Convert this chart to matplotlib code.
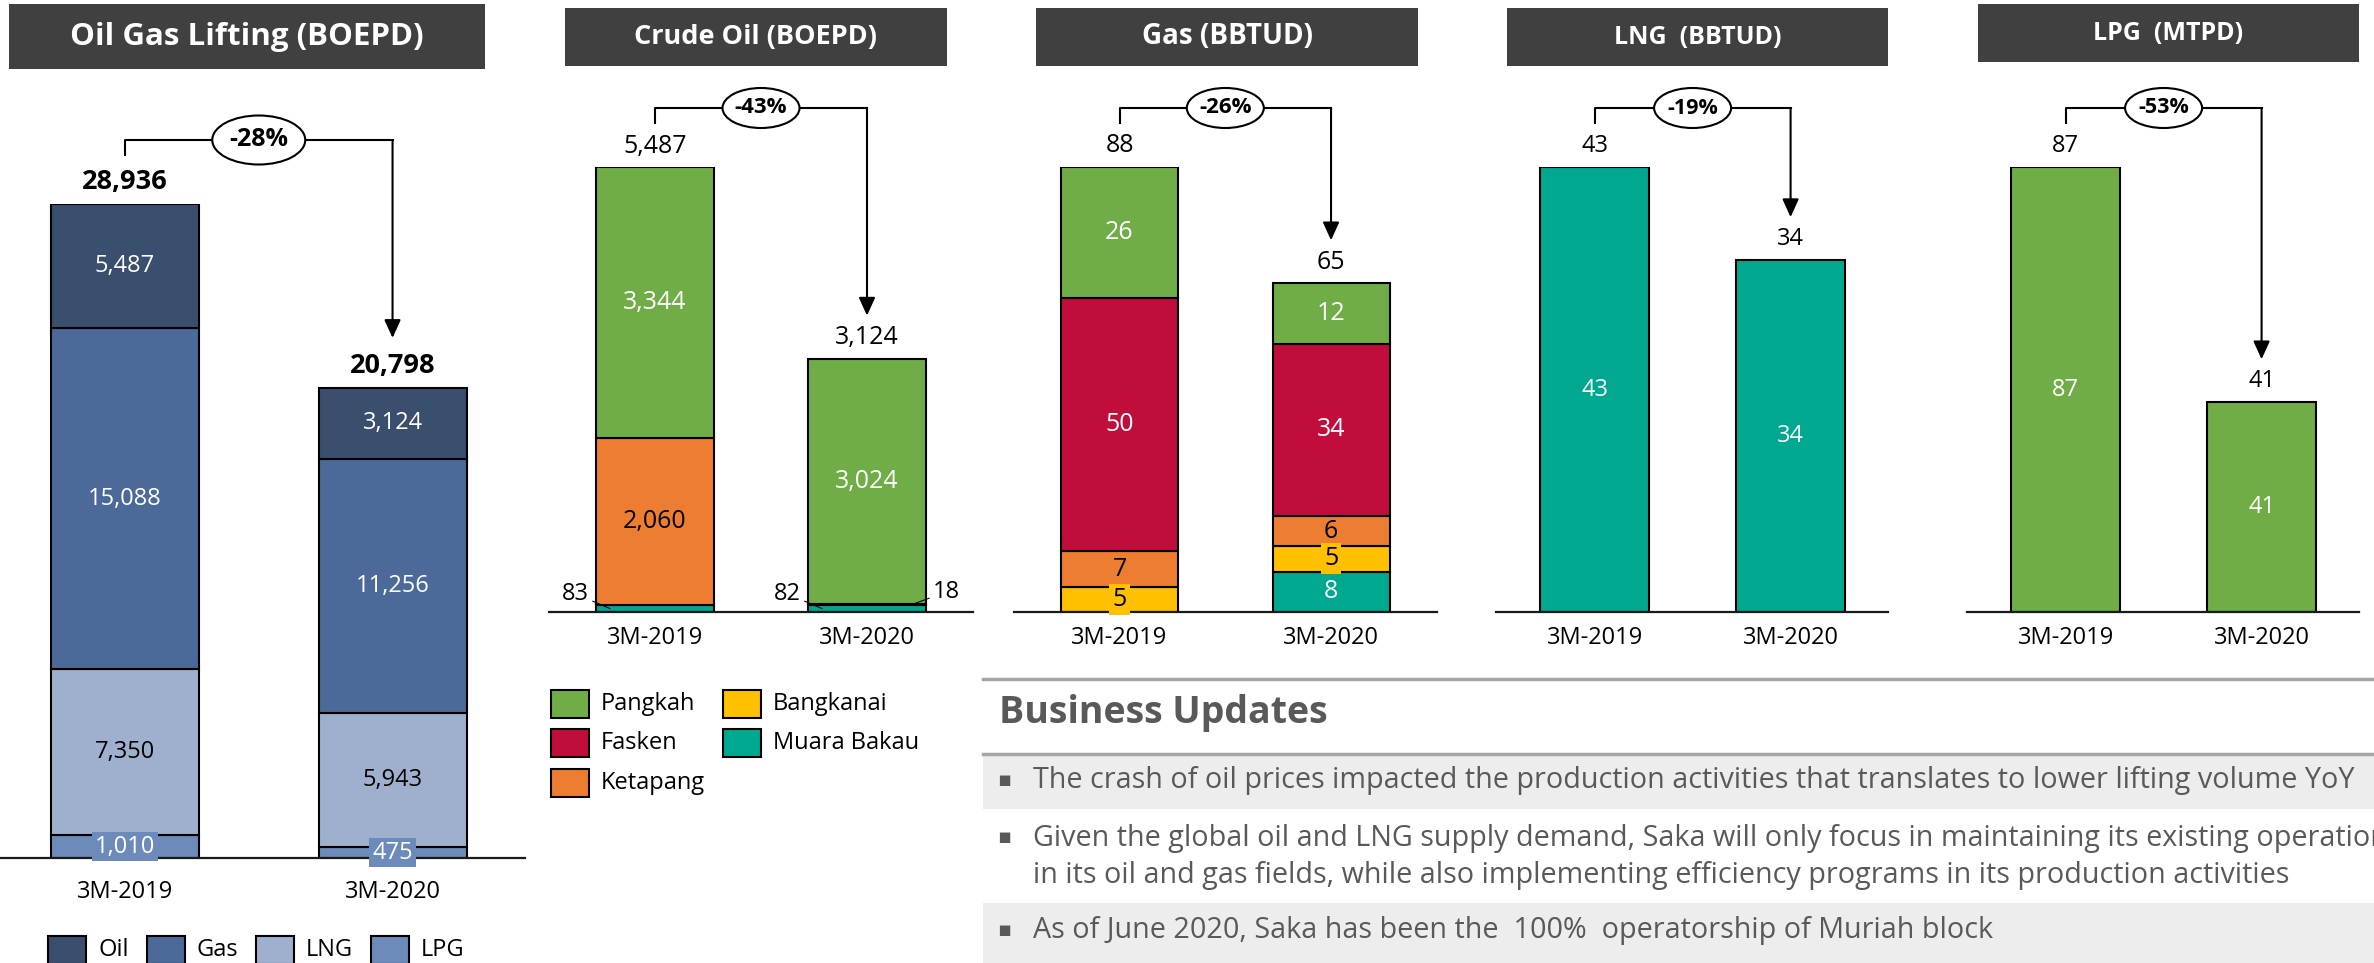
import matplotlib

matplotlib.use("Agg")
import matplotlib.pyplot as plt
from matplotlib.lines import Line2D
from matplotlib.patches import Ellipse, FancyArrowPatch, Rectangle

W, H = 2374, 963
TEXT = "#000000"
GREY_TEXT = "#595959"
TITLE_BG = "#404040"
RULE = "#A6A6A6"
ROW_BG = "#EDEDED"

OIL_C, GAS_C, LNG_C, LPG_C = "#3A4E6E", "#4B6A99", "#9FB0CE", "#6D8BBA"
PANGKAH_C, FASKEN_C, KETAPANG_C = "#70AD47", "#C00D3B", "#ED7D31"
BANGKANAI_C, MUARA_C = "#FFC000", "#00A88F"

YEARS = ["3M-2019", "3M-2020"]

# Oil Gas Lifting (BOEPD), stacked bottom -> top
LIFT_LPG = [1010, 475]
LIFT_LNG = [7350, 5943]
LIFT_GAS = [15088, 11256]
LIFT_OIL = [5487, 3124]
LIFT_TOTAL = [28936, 20798]

# Crude Oil (BOEPD)
CRUDE_MUARA = [83, 82]
CRUDE_KETAPANG = [2060, 18]
CRUDE_PANGKAH = [3344, 3024]
CRUDE_TOTAL = [5487, 3124]

# Gas (BBTUD)
GAS_MUARA = [0, 8]
GAS_BANGKANAI = [5, 5]
GAS_KETAPANG = [7, 6]
GAS_FASKEN = [50, 34]
GAS_PANGKAH = [26, 12]
GAS_TOTAL = [88, 65]

LNG_VALUES = [43, 34]
LPG_VALUES = [87, 41]

CHANGES = ["-28%", "-43%", "-26%", "-19%", "-53%"]

UPDATES = [
    "The crash of oil prices impacted the production activities that translates to lower lifting volume YoY",
    "Given the global oil and LNG supply demand, Saka will only focus in maintaining its existing operation\n"
    "in its oil and gas fields, while also implementing efficiency programs in its production activities",
    "As of June 2020, Saka has been the  100%  operatorship of Muriah block",
]

X = [0, 1]
PT = 0.72  # points per pixel at dpi 100


def frac_rect(x0, y0, x1, y1):
    return [x0 / W, 1 - y1 / H, (x1 - x0) / W, (y1 - y0) / H]


def panel_axes(fig, x0, x1, y_top, y_base, xlim, ymax, pad):
    ax = fig.add_axes(frac_rect(x0, y_top, x1, y_base))
    ax.set_xlim(*xlim)
    ax.set_ylim(0, ymax)
    ax.patch.set_visible(False)
    for s in ["top", "right", "left"]:
        ax.spines[s].set_visible(False)
    ax.spines["bottom"].set_linewidth(1.6)
    ax.spines["bottom"].set_color("#1A1A1A")
    ax.set_yticks([])
    ax.set_xticks(X, YEARS, fontsize=17, color=TEXT)
    ax.tick_params(axis="x", length=0, pad=pad)
    return ax


def title_box(fig, x0, y0, x1, y1, text, fs):
    fig.add_artist(Rectangle((x0 / W, 1 - y1 / H), (x1 - x0) / W, (y1 - y0) / H,
                             transform=fig.transFigure, facecolor=TITLE_BG, edgecolor="none"))
    fig.text((x0 + x1) / 2 / W, 1 - (y0 + y1) / 2 / H, text, color="white",
             fontsize=fs, fontweight="bold", ha="center", va="center")


def draw_stack(ax, layers, width, fs, skip=()):
    bottoms = [0.0] * len(X)
    for li, (values, color, tcolor, boxed) in enumerate(layers):
        ax.bar(X, values, width, bottom=bottoms, color=color, edgecolor="black",
               linewidth=1.5, zorder=2)
        for i, v in enumerate(values):
            if v == 0 or (li, i) in skip:
                continue
            bbox = None
            if boxed:
                bbox = dict(boxstyle="square,pad=0.12", facecolor=color, edgecolor="none")
            ax.text(X[i], bottoms[i] + v / 2, f"{v:,}", ha="center", va="center",
                    fontsize=fs, color=tcolor, bbox=bbox, zorder=4)
        bottoms = [b + v for b, v in zip(bottoms, values)]


def totals(ax, values, gap_px, fs, bold=False):
    for x, v in zip(X, values):
        ax.annotate(f"{v:,}", (x, v), xytext=(0, gap_px * PT), textcoords="offset points",
                    ha="center", va="center", fontsize=fs, color=TEXT,
                    fontweight="bold" if bold else "normal", annotation_clip=False)


def bracket(fig, ax, values, change, start, rise, tip, oval_w, oval_h, fs):
    xa, ya = ax.transData.transform((X[0], values[0]))
    xb, yb = ax.transData.transform((X[1], values[1]))
    y_line = ya + rise
    fig.add_artist(Line2D([xa / W, xa / W, xb / W], [(ya + start) / H, y_line / H, y_line / H],
                          transform=fig.transFigure, color="black", lw=1.5, zorder=4))
    fig.add_artist(FancyArrowPatch((xb / W, y_line / H), (xb / W, (yb + tip) / H),
                                   transform=fig.transFigure,
                                   arrowstyle="-|>,head_length=0.55,head_width=0.25",
                                   mutation_scale=20, color="black", lw=1.5,
                                   shrinkA=0, shrinkB=0, zorder=4))
    cx = (xa + xb) / 2
    fig.add_artist(Ellipse((cx / W, y_line / H), oval_w / W, oval_h / H,
                           transform=fig.transFigure, facecolor="white",
                           edgecolor="black", lw=1.5, zorder=5))
    fig.text(cx / W, y_line / H, change, ha="center", va="center", fontsize=fs,
             fontweight="bold", color=TEXT, zorder=6)


def leader(ax, x, y, text, dx, dy):
    ax.annotate(text, (x, y), xytext=(dx * PT, dy * PT), textcoords="offset points",
                ha="center", va="center", fontsize=17, color=TEXT,
                arrowprops=dict(arrowstyle="-", lw=0.8, color="black", shrinkA=1, shrinkB=0),
                annotation_clip=False, zorder=5)


def legend_row(fig, entries, box_w=38, box_h=28, gap=12, fs=17):
    for x, y, color, label in entries:
        fig.add_artist(Rectangle((x / W, 1 - (y + box_h / 2) / H), box_w / W, box_h / H,
                                 transform=fig.transFigure, facecolor=color,
                                 edgecolor="black", lw=1.5))
        fig.text((x + box_w + gap) / W, 1 - y / H, label, fontsize=fs, va="center", color=TEXT)


def main():
    plt.rcParams.update({
        "font.family": ["Open Sans", "DejaVu Sans"],
        "text.color": TEXT,
    })
    fig = plt.figure(figsize=(W / 100, H / 100), dpi=100)
    fig.patch.set_facecolor("white")

    # ---- Oil Gas Lifting
    title_box(fig, 9, 4, 485, 69, "Oil Gas Lifting (BOEPD)", 22.5)
    ax1 = panel_axes(fig, 0, 525, 204, 858, (-0.467, 1.495), LIFT_TOTAL[0], 15.5)
    draw_stack(ax1, [
        (LIFT_LPG, LPG_C, "white", True),
        (LIFT_LNG, LNG_C, TEXT, False),
        (LIFT_GAS, GAS_C, "white", False),
        (LIFT_OIL, OIL_C, "white", False),
    ], 0.553, 17)
    totals(ax1, LIFT_TOTAL, 22, 19.5, bold=True)
    bracket(fig, ax1, LIFT_TOTAL, CHANGES[0], 49, 64, 50, 93, 49, 18)
    legend_row(fig, [
        (48, 950, OIL_C, "Oil"), (147, 950, GAS_C, "Gas"),
        (256, 950, LNG_C, "LNG"), (371, 950, LPG_C, "LPG"),
    ])

    # ---- Crude Oil
    title_box(fig, 565, 8, 947, 66, "Crude Oil (BOEPD)", 19.5)
    ax2 = panel_axes(fig, 549, 973, 167, 612, (-0.5, 1.5), CRUDE_TOTAL[0], 10)
    w2 = 0.557
    draw_stack(ax2, [
        (CRUDE_MUARA, MUARA_C, "white", False),
        (CRUDE_KETAPANG, KETAPANG_C, TEXT, False),
        (CRUDE_PANGKAH, PANGKAH_C, "white", False),
    ], w2, 18, skip={(0, 0), (0, 1), (1, 1)})
    leader(ax2, X[0] - w2 * 0.38, CRUDE_MUARA[0] / 2, f"{CRUDE_MUARA[0]:,}", -35, 15)
    leader(ax2, X[1] - w2 * 0.38, CRUDE_MUARA[1] / 2, f"{CRUDE_MUARA[1]:,}", -35, 15)
    leader(ax2, X[1] + w2 * 0.38, CRUDE_MUARA[1] + CRUDE_KETAPANG[1] / 2,
           f"{CRUDE_KETAPANG[1]:,}", 35, 13)
    totals(ax2, CRUDE_TOTAL, 21, 18)
    bracket(fig, ax2, CRUDE_TOTAL, CHANGES[1], 44, 59, 43, 77, 40, 16)
    legend_row(fig, [
        (551, 704, PANGKAH_C, "Pangkah"), (551, 743, FASKEN_C, "Fasken"),
        (551, 783, KETAPANG_C, "Ketapang"), (723, 704, BANGKANAI_C, "Bangkanai"),
        (723, 743, MUARA_C, "Muara Bakau"),
    ])

    # ---- Gas
    title_box(fig, 1036, 8, 1418, 66, "Gas (BBTUD)", 20)
    ax3 = panel_axes(fig, 1014, 1437, 167, 612, (-0.499, 1.501), GAS_TOTAL[0], 10)
    draw_stack(ax3, [
        (GAS_MUARA, MUARA_C, "white", False),
        (GAS_BANGKANAI, BANGKANAI_C, TEXT, True),
        (GAS_KETAPANG, KETAPANG_C, TEXT, False),
        (GAS_FASKEN, FASKEN_C, "white", False),
        (GAS_PANGKAH, PANGKAH_C, "white", False),
    ], 0.553, 18)
    totals(ax3, GAS_TOTAL, 21, 18)
    bracket(fig, ax3, GAS_TOTAL, CHANGES[2], 44, 59, 43, 77, 40, 16)

    # ---- LNG
    title_box(fig, 1507, 8, 1888, 66, "LNG  (BBTUD)", 18)
    ax4 = panel_axes(fig, 1496, 1888, 167, 612, (-0.503, 1.497), LNG_VALUES[0], 10)
    draw_stack(ax4, [(LNG_VALUES, MUARA_C, "white", False)], 0.556, 17)
    totals(ax4, LNG_VALUES, 21, 17)
    bracket(fig, ax4, LNG_VALUES, CHANGES[3], 44, 59, 43, 77, 40, 15.5)

    # ---- LPG
    title_box(fig, 1978, 4, 2359, 62, "LPG  (MTPD)", 18)
    ax5 = panel_axes(fig, 1967, 2359, 167, 612, (-0.503, 1.497), LPG_VALUES[0], 10)
    draw_stack(ax5, [(LPG_VALUES, PANGKAH_C, "white", False)], 0.556, 17)
    totals(ax5, LPG_VALUES, 21, 17)
    bracket(fig, ax5, LPG_VALUES, CHANGES[4], 44, 59, 43, 77, 40, 15.5)

    # ---- Business updates
    for y in (679, 754):
        fig.add_artist(Line2D([983 / W, 1], [1 - y / H] * 2, transform=fig.transFigure,
                              color=RULE, lw=2.5))
    fig.text(999 / W, 1 - 713 / H, "Business Updates", fontsize=27, fontweight="bold",
             color=GREY_TEXT, va="center")
    for y0, y1 in ((756, 809), (903, 963)):
        fig.add_artist(Rectangle((983 / W, 1 - y1 / H), 1 - 983 / W, (y1 - y0) / H,
                                 transform=fig.transFigure, facecolor=ROW_BG,
                                 edgecolor="none", zorder=0))
    for text, y, yb in zip(UPDATES, (780, 857, 930), (780, 837, 930)):
        fig.text(1004 / W, 1 - yb / H, "\u25aa", fontsize=15, color=GREY_TEXT,
                 va="center", ha="center", family="DejaVu Sans")
        fig.text(1033 / W, 1 - y / H, text, fontsize=20.7, color=GREY_TEXT,
                 va="center", linespacing=1.4)

    fig.savefig("out.png", dpi=100, facecolor="white")


if __name__ == "__main__":
    main()
